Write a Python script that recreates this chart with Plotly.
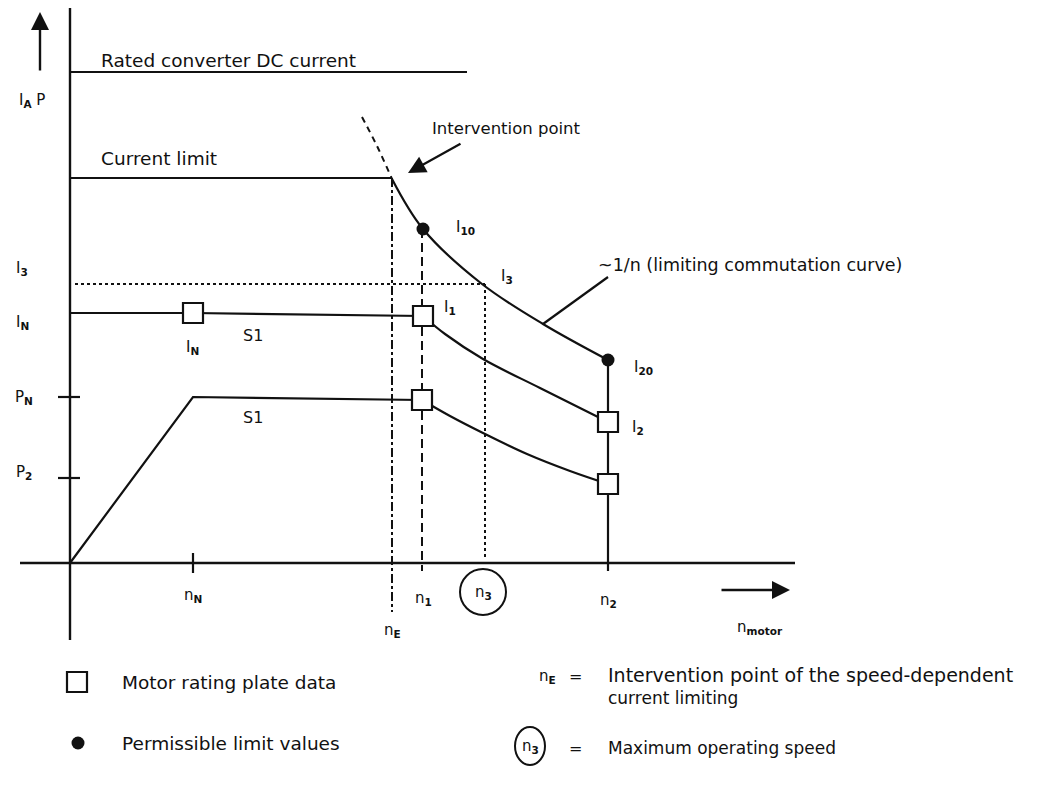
import plotly.graph_objects as go

# ---- values (arbitrary units: speed n, current/power I,P) ----
n_marks = {"nN": 1.23, "nE": 3.22, "n1": 3.52, "n3": 4.15, "n2": 5.38}
rated_dc = 4.91          # rated converter DC current level
rated_dc_end = 3.97      # where that line ends
current_limit = 3.85
I3_level = 2.79
IN_level = 2.50
PN_level = 1.66
P2_level = 0.85

# limiting commutation curve (~1/n), read point by point
comm_n = [3.22, 3.53, 4.12, 4.73, 5.38]
comm_i = [3.84, 3.34, 2.79, 2.39, 2.03]
# dashed continuation above the intervention point
ext_n = [2.92, 3.07, 3.22]
ext_i = [4.46, 4.17, 3.84]
# S1 current curve (I_N -> I1 -> I2)
icur_n = [0.0, 1.23, 3.53, 3.75, 4.13, 4.70, 5.38]
icur_i = [2.50, 2.50, 2.47, 2.29, 2.04, 1.75, 1.41]
# S1 power curve (0 -> P_N -> P1 -> P2)
pcur_n = [0.0, 1.23, 3.52, 3.80, 4.13, 4.57, 5.00, 5.38]
pcur_p = [0.0, 1.66, 1.63, 1.47, 1.30, 1.09, 0.92, 0.79]

# rating-plate squares and limit dots
square_n = [1.23, 3.53, 3.52, 5.38, 5.38]
square_v = [2.50, 2.47, 1.63, 1.41, 0.79]
dot_n = [3.53, 5.38]
dot_v = [3.34, 2.03]

FONT = "DejaVu Sans"
BLACK = "#111111"

fig = go.Figure()

def line(xs, ys, dash="solid", width=2.2):
    fig.add_trace(go.Scatter(x=xs, y=ys, mode="lines",
                             line=dict(color=BLACK, width=width, dash=dash),
                             hoverinfo="skip", showlegend=False))

def spline(xs, ys, width=2.2):
    fig.add_trace(go.Scatter(x=xs, y=ys, mode="lines",
                             line=dict(color=BLACK, width=width, shape="spline", smoothing=1.0),
                             hoverinfo="skip", showlegend=False))

# axes
line([0, 0], [-0.77, 5.55], width=2.4)
line([-0.50, 7.25], [0, 0], width=2.4)

# horizontal levels
line([0, rated_dc_end], [rated_dc, rated_dc])
line([0, n_marks["nE"]], [current_limit, current_limit])

# commutation curve
spline(comm_n, comm_i)
fig.add_trace(go.Scatter(x=ext_n, y=ext_i, mode="lines",
                         line=dict(color=BLACK, width=2, dash="6px,5px", shape="spline"),
                         hoverinfo="skip", showlegend=False))

# S1 curves
line(icur_n[:3], icur_i[:3])
spline(icur_n[2:], icur_i[2:])
line(pcur_n[:3], pcur_p[:3])
spline(pcur_n[2:], pcur_p[2:])

# vertical at n2
line([n_marks["n2"], n_marks["n2"]], [dot_v[1], -0.08])

# n_E dash-dot, n1 dashed, I3/n3 dotted
line([n_marks["nE"], n_marks["nE"]], [current_limit, -0.49], dash="dashdot", width=2)
line([n_marks["n1"], n_marks["n1"]], [dot_v[0], -0.08], dash="9px,5px", width=2)
line([0.05, n_marks["n3"]], [I3_level, I3_level], dash="dot", width=2)
line([n_marks["n3"], n_marks["n3"]], [I3_level, 0.04], dash="dot", width=2)

# ticks
line([n_marks["nN"], n_marks["nN"]], [0.10, -0.10])
line([-0.12, 0.10], [PN_level, PN_level])
line([-0.12, 0.10], [P2_level, P2_level])

# leader line to curve label
line([4.73, 5.38], [2.39, 2.86])

# markers
fig.add_trace(go.Scatter(x=square_n, y=square_v, mode="markers",
                         marker=dict(symbol="square", size=20, color="white",
                                     line=dict(color=BLACK, width=2.2)),
                         hoverinfo="skip", showlegend=False))
fig.add_trace(go.Scatter(x=dot_n, y=dot_v, mode="markers",
                         marker=dict(symbol="circle", size=13, color=BLACK),
                         hoverinfo="skip", showlegend=False))

# legend symbols
fig.add_trace(go.Scatter(x=[0.07], y=[-1.19], mode="markers",
                         marker=dict(symbol="square", size=20, color="white",
                                     line=dict(color=BLACK, width=2.2)),
                         hoverinfo="skip", showlegend=False))
fig.add_trace(go.Scatter(x=[0.08], y=[-1.80], mode="markers",
                         marker=dict(symbol="circle", size=13, color=BLACK),
                         hoverinfo="skip", showlegend=False))

shapes = []
# n3 circle on axis
cx, cy, r = n_marks["n3"] - 0.02, -0.29, 0.23
shapes.append(dict(type="circle", xref="x", yref="y", x0=cx - r, x1=cx + r, y0=cy - r, y1=cy + r,
                   line=dict(color=BLACK, width=2)))
# n3 circle in legend
lx, ly = 4.60, -1.83
shapes.append(dict(type="circle", xref="x", yref="y", x0=lx - 0.15, x1=lx + 0.15, y0=ly - 0.19, y1=ly + 0.19,
                   line=dict(color=BLACK, width=2)))

ann = []
def txt(x, y, s, size=16, anchor="left", yanchor="middle"):
    ann.append(dict(x=x, y=y, xref="x", yref="y", text=s, showarrow=False,
                    xanchor=anchor, yanchor=yanchor,
                    font=dict(family=FONT, size=size, color=BLACK)))

txt(0.29, 5.03, "Rated converter DC current", size=18.5)
txt(0.29, 4.05, "Current limit", size=18.5)
txt(-0.38, 4.63, "I<sub><b>A</b></sub> P", size=15, anchor="center")
txt(3.60, 4.35, "Intervention point", size=16.5)
txt(5.26, 2.98, "~1/n (limiting commutation curve)", size=17.5)

txt(3.95, 3.36, "I<sub><b>10</b></sub>", size=15, anchor="center")
txt(4.37, 2.87, "I<sub><b>3</b></sub>", size=15, anchor="center")
txt(3.80, 2.56, "I<sub><b>1</b></sub>", size=15, anchor="center")
txt(5.73, 1.96, "I<sub><b>20</b></sub>", size=15, anchor="center")
txt(5.68, 1.36, "I<sub><b>2</b></sub>", size=15, anchor="center")
txt(1.22, 2.16, "I<sub><b>N</b></sub>", size=15, anchor="center")
txt(1.83, 2.28, "S1", size=16, anchor="center")
txt(1.83, 1.46, "S1", size=16, anchor="center")

# y labels
txt(-0.48, 2.95, "I<sub><b>3</b></sub>", size=15, anchor="center")
txt(-0.48, 2.41, "I<sub><b>N</b></sub>", size=15, anchor="center")
txt(-0.46, 1.66, "P<sub><b>N</b></sub>", size=15, anchor="center")
txt(-0.46, 0.91, "P<sub><b>2</b></sub>", size=15, anchor="center")

# x labels
txt(n_marks["nN"], -0.32, "n<sub><b>N</b></sub>", size=15, anchor="center")
txt(n_marks["n1"] + 0.01, -0.35, "n<sub><b>1</b></sub>", size=15, anchor="center")
txt(cx, cy, "n<sub><b>3</b></sub>", size=15, anchor="center")
txt(n_marks["n2"], -0.37, "n<sub><b>2</b></sub>", size=15, anchor="center")
txt(n_marks["nE"], -0.67, "n<sub><b>E</b></sub>", size=15, anchor="center")
txt(6.90, -0.64, "n<sub><b>motor</b></sub>", size=15, anchor="center")

# legend text
txt(0.50, -1.19, "Motor rating plate data", size=18.5)
txt(0.50, -1.80, "Permissible limit values", size=18.5)
txt(4.77, -1.13, "n<sub><b>E</b></sub>", size=15, anchor="center")
txt(5.05, -1.13, "=", size=16, anchor="center")
txt(5.36, -1.12, "Intervention point of the speed-dependent", size=19)
txt(5.36, -1.35, "current limiting", size=17)
txt(lx, ly, "n<sub><b>3</b></sub>", size=15, anchor="center")
txt(5.05, -1.85, "=", size=16, anchor="center")
txt(5.36, -1.85, "Maximum operating speed", size=17)

# arrows
ann.append(dict(x=3.38, y=3.90, ax=3.92, ay=4.20, xref="x", yref="y", axref="x", ayref="y",
                showarrow=True, arrowhead=2, arrowsize=1.6, arrowwidth=2.2, arrowcolor=BLACK, text=""))
ann.append(dict(x=-0.30, y=5.51, ax=-0.30, ay=4.91, xref="x", yref="y", axref="x", ayref="y",
                showarrow=True, arrowhead=2, arrowsize=1.5, arrowwidth=2.4, arrowcolor=BLACK, text=""))
ann.append(dict(x=7.20, y=-0.27, ax=6.50, ay=-0.27, xref="x", yref="y", axref="x", ayref="y",
                showarrow=True, arrowhead=2, arrowsize=1.5, arrowwidth=2.4, arrowcolor=BLACK, text=""))

# page body has an 8px margin: size the figure to fit the window
fig.update_layout(
    width=1036, height=771, autosize=False,
    margin=dict(l=0, r=0, t=0, b=0),
    paper_bgcolor="white", plot_bgcolor="white",
    xaxis=dict(range=[-0.62, 9.74], visible=False, fixedrange=True),
    yaxis=dict(range=[-2.16, 5.55], visible=False, fixedrange=True),
    shapes=shapes, annotations=ann,
    font=dict(family=FONT, color=BLACK),
)

fig.write_html("out.html")
